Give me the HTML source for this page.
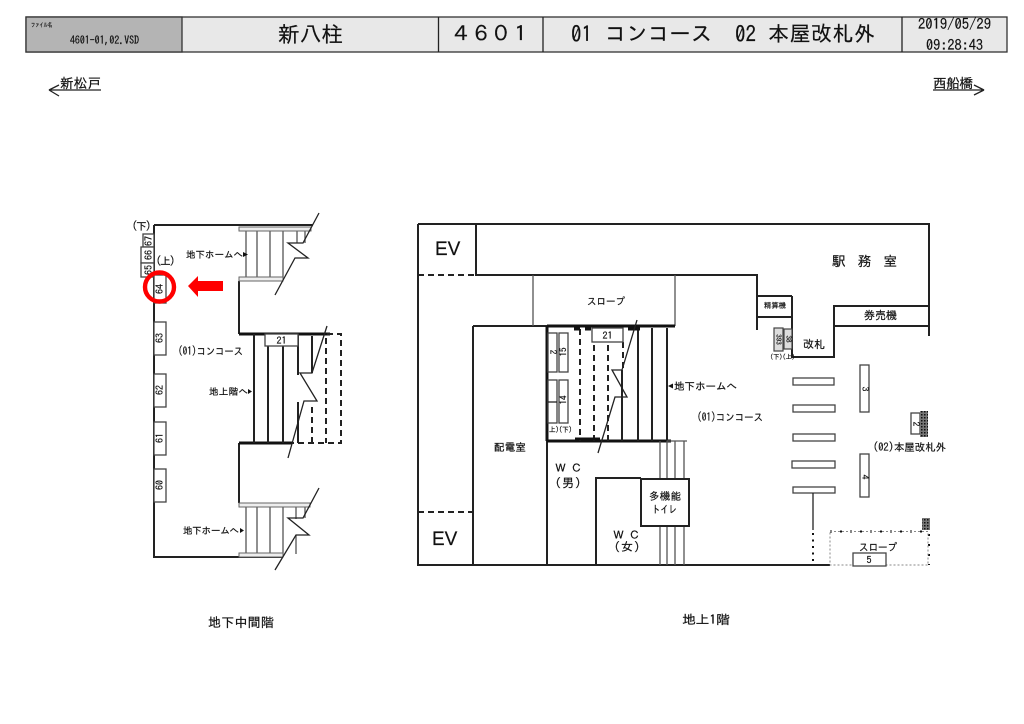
<!DOCTYPE html>
<html lang="ja">
<head>
<meta charset="utf-8">
<title>新八柱 4601</title>
<style>
html,body{margin:0;padding:0;background:#fff}
svg{display:block}
text{font-family:"IPAGothic","Liberation Sans","Noto Sans CJK JP",sans-serif;fill:#111;stroke:#111;stroke-width:.2}
.e{font-family:"Liberation Sans",sans-serif}
.l{fill:none;stroke:#222;stroke-width:1.3}
.w{fill:none;stroke:#222;stroke-width:2}
.t{fill:none;stroke:#111;stroke-width:3}
.d{fill:none;stroke:#222;stroke-width:2;stroke-dasharray:6 4}
.b{fill:#fff;stroke:#444;stroke-width:1.3}
.g{fill:none;stroke:#555;stroke-width:1.3}
.f{fill:#ddd;stroke:#444;stroke-width:1.2}
</style>
</head>
<body>
<svg width="1024" height="724" viewBox="0 0 1024 724" xmlns="http://www.w3.org/2000/svg">
<defs>
<pattern id="h" width="3" height="3" patternUnits="userSpaceOnUse"><rect width="3" height="3" fill="#777"/><rect width="1.5" height="1.5" fill="#111"/></pattern>
</defs>
<!-- header -->
<rect x="26" y="17" width="981" height="35" fill="#e8e8e8" stroke="#333" stroke-width="1.3"/>
<rect x="26" y="17" width="156" height="35" fill="#b4b4b4" stroke="#333" stroke-width="1.3"/>
<path class="l" d="M438.500 17V52M543 17V52M902 17V52"/>
<text x="31" y="27" font-size="6" textLength="21" lengthAdjust="spacingAndGlyphs">ファイル名</text>
<text x="70" y="44" font-size="10.500" textLength="69" lengthAdjust="spacingAndGlyphs">4601-01,02.VSD</text>
<text x="278" y="42" font-size="21.500" textLength="65">新八柱</text>
<text x="451" y="41" font-size="21" textLength="80">４６０１</text>
<text x="571" y="42" font-size="22" textLength="21" lengthAdjust="spacingAndGlyphs">01</text>
<text x="605" y="41" font-size="21" textLength="107">コンコース</text>
<text x="735" y="42" font-size="22" textLength="21" lengthAdjust="spacingAndGlyphs">02</text>
<text x="768" y="41" font-size="21" textLength="107">本屋改札外</text>
<text x="918" y="29" font-size="15" textLength="73" lengthAdjust="spacingAndGlyphs">2019/05/29</text>
<text x="926" y="50" font-size="15" textLength="57" lengthAdjust="spacingAndGlyphs">09:28:43</text>
<!-- direction -->
<text x="60" y="88" font-size="13.500" textLength="41">新松戸</text>
<path class="l" d="M101 90H49L59 85M49 90L59 96"/>
<text x="933" y="88" font-size="13.500" textLength="40">西船橋</text>
<path class="l" d="M933 90H984L974 85M984 90L974 95"/>

<!-- LEFT PLAN -->
<path class="w" d="M154 225H313M154 225V557H283M239 281V334M239 443V503"/>
<path class="t" d="M239 334H330M239 443H292"/>
<path class="d" d="M327 334H341V443H292M326 338V443M312 407V443"/>
<!-- stairs top -->
<path class="g" d="M246 230V278M257 230V278M270 230V278M283 230V278M297 230V243M305 230V243"/>
<rect x="239" y="227" width="72" height="4" fill="#eee" stroke="#666" stroke-width="1"/>
<rect x="239" y="277" width="44" height="4" fill="#eee" stroke="#666" stroke-width="1"/>
<path class="l" d="M319 213L303 243H288L308 258H295L275 295"/>
<!-- stairs mid -->
<path class="w" d="M254 334V443M268 334V443M283 334V443M298 334V375M298 402V443M312 336V373" stroke-width="1.600"/>
<path class="l" d="M327 326L312 373H300L317 401H304L288 458"/>
<rect x="265" y="334" width="33" height="12" class="b"/>
<text x="281.500" y="344" font-size="10" text-anchor="middle">21</text>
<!-- stairs bottom -->
<path class="g" d="M246 505V554M257 505V554M270 505V554M283 505V554M296 505V519M296 535V554M305 505V518"/>
<rect x="239" y="503" width="71" height="4" fill="#eee" stroke="#666" stroke-width="1"/>
<rect x="239" y="553" width="44" height="4" fill="#eee" stroke="#666" stroke-width="1"/>
<path class="l" d="M319 488L303 518H288L309 535H296L275 570"/>
<!-- posts -->
<rect x="143" y="234" width="11" height="13" class="b"/>
<rect x="141" y="247" width="13" height="16" class="b"/>
<rect x="141" y="263" width="13" height="14" class="b"/>
<rect x="154" y="275" width="12" height="28" class="b"/>
<rect x="154" y="322" width="12" height="33" class="b"/>
<rect x="154" y="374" width="12" height="33" class="b"/>
<rect x="154" y="422" width="12" height="33" class="b"/>
<rect x="154" y="469" width="12" height="33" class="b"/>
<g font-size="10" text-anchor="middle">
<text transform="translate(152,241) rotate(-90)">67</text>
<text transform="translate(152,255) rotate(-90)">66</text>
<text transform="translate(152,270) rotate(-90)">65</text>
<text transform="translate(163,289) rotate(-90)">64</text>
<text transform="translate(163,338) rotate(-90)">63</text>
<text transform="translate(163,390) rotate(-90)">62</text>
<text transform="translate(163,438) rotate(-90)">61</text>
<text transform="translate(163,485) rotate(-90)">60</text>
</g>
<text x="132" y="230" font-size="10.500" textLength="19">(下)</text>
<text x="156" y="265" font-size="10.500" textLength="19">(上)</text>
<circle cx="159.500" cy="287" r="14.500" fill="none" stroke="#f00" stroke-width="4.400"/>
<path d="M188 286L198 276V281H223V291H198V297Z" fill="#f00"/>
<text x="186" y="258" font-size="9.500" textLength="57">地下ホームへ</text>
<path d="M243 252L248 254.500L243 257Z" fill="#111"/>
<text x="178" y="355" font-size="10.500" textLength="65" lengthAdjust="spacingAndGlyphs">(01)コンコース</text>
<text x="209" y="395" font-size="9.500" textLength="39">地上階へ</text>
<path d="M248 389L252 391.500L248 394Z" fill="#111"/>
<text x="183" y="534" font-size="9.500" textLength="56">地下ホームへ</text>
<path d="M240 528L244 530.500L240 533Z" fill="#111"/>
<text x="208" y="627" font-size="13" textLength="66">地下中間階</text>
<text x="682" y="624" font-size="12.500" textLength="48" lengthAdjust="spacingAndGlyphs">地上1階</text>

<!-- RIGHT PLAN -->
<path class="w" d="M418 224H929V336M418 224V565H830M476 224V275H757V330M473 326H547M473 326V565M547 441V565M596 565V478H641M757 296H792M757 317H792M757 296V317M792 296V357H834V306H929M834 326H929"/>
<path d="M418 275H476M418 512H473" class="d"/>
<path class="g" d="M533 275V326M675 275V326"/>
<path class="t" d="M547 326H675M547 326V441M547 441H671"/>
<!-- right stairs -->
<path class="w" d="M638 328V441M652 328V441M667 328V441M622 370V441" stroke-width="1.600"/>
<path class="d" d="M580 329V441M594 345V441M608 345V441M623 342V370"/>
<path class="t" d="M574 329H580M585 329H591M628 329H640M575 439H600" stroke-width="2"/>
<rect x="592" y="328" width="31" height="14" class="b"/>
<text x="607.500" y="339" font-size="10" text-anchor="middle">21</text>
<path class="l" d="M637 320L622 370H612L627 397H615L598 453"/>
<rect x="548" y="333" width="9" height="39" class="b"/>
<rect x="559" y="333" width="9" height="39" class="b"/>
<rect x="548" y="380" width="9" height="43" class="b"/>
<rect x="559" y="380" width="9" height="43" class="b"/>
<path class="l" d="M548 402H557"/>
<g font-size="9" text-anchor="middle">
<text transform="translate(550,352) rotate(90)">2</text>
<text transform="translate(566.500,352) rotate(-90)">15</text>
<text transform="translate(566.500,400) rotate(-90)">14</text>
</g>
<text x="549" y="432" font-size="7" textLength="23" lengthAdjust="spacingAndGlyphs">上)(下)</text>
<path class="g" d="M660 441V565M667 441V565M675 441V565M684 441V565M667 441H687"/>
<rect x="641" y="479" width="48" height="47" fill="#fff" stroke="#222" stroke-width="2"/>
<!-- right-hand elements -->
<rect x="774" y="328" width="9" height="23" class="f"/>
<rect x="784" y="329" width="8" height="20" class="f"/>
<text transform="translate(776,339.500) rotate(90)" font-size="7" text-anchor="middle">393</text>
<text transform="translate(786,339) rotate(90)" font-size="7" text-anchor="middle">38</text>
<text x="770" y="359" font-size="6.500" textLength="25" lengthAdjust="spacingAndGlyphs">(下)(上)</text>
<rect x="793" y="378" width="41" height="7" class="b"/>
<rect x="793" y="405" width="42" height="7" class="b"/>
<rect x="793" y="434" width="42" height="7" class="b"/>
<rect x="792" y="461" width="43" height="7" class="b"/>
<rect x="793" y="487" width="42" height="6" class="b"/>
<rect x="860" y="365" width="9" height="47" class="b"/>
<rect x="860" y="454" width="9" height="43" class="b"/>
<rect x="911" y="413" width="9" height="21" class="b"/>
<text transform="translate(862,389) rotate(90)" font-size="9.500" text-anchor="middle">3</text>
<text transform="translate(862,477) rotate(90)" font-size="9.500" text-anchor="middle">4</text>
<text transform="translate(913,424) rotate(90)" font-size="9.500" text-anchor="middle">2</text>
<rect x="920" y="411" width="8" height="26" fill="url(#h)"/>
<rect x="922" y="518" width="8" height="12" fill="url(#h)"/>
<path class="l" d="M813 493V530" stroke-width="1.600"/>
<path d="M813 533V565" fill="none" stroke="#111" stroke-width="2" stroke-dasharray="2 4.500"/>
<path d="M830 531.500H928M929 534V565" fill="none" stroke="#111" stroke-width="2" stroke-dasharray="2 8"/>
<path d="M830 531.500H928V565H830Z" fill="none" stroke="#888" stroke-width="1" stroke-dasharray="2 2"/>
<rect x="853" y="553" width="33" height="13" class="b"/>
<text x="869" y="563.500" font-size="10" text-anchor="middle">5</text>
<!-- labels -->
<text class="e" x="435" y="255" font-size="19">EV</text>
<text class="e" x="432" y="545" font-size="19">EV</text>
<text x="587" y="305" font-size="10" textLength="38" lengthAdjust="spacingAndGlyphs">スロープ</text>
<text x="494" y="451" font-size="10.500" textLength="32">配電室</text>
<text x="555" y="472" font-size="11" textLength="27" lengthAdjust="spacing">ＷＣ</text>
<text x="555" y="487" font-size="12" textLength="26">(男)</text>
<text x="613" y="539" font-size="11" textLength="27" lengthAdjust="spacing">ＷＣ</text>
<text x="614" y="551" font-size="12" textLength="26">(女)</text>
<text x="649" y="500" font-size="10.500" textLength="32">多機能</text>
<text x="652" y="513" font-size="10.500" textLength="25" lengthAdjust="spacingAndGlyphs">トイレ</text>
<path d="M673 383.500L668 386L673 388.500Z" fill="#111"/>
<text x="674" y="390" font-size="10.500" textLength="63">地下ホームへ</text>
<text x="697" y="421" font-size="10.500" textLength="66" lengthAdjust="spacingAndGlyphs">(01)コンコース</text>
<text x="873" y="451" font-size="10.500" textLength="73" lengthAdjust="spacingAndGlyphs">(02)本屋改札外</text>
<text x="832" y="266" font-size="13.500" textLength="65" lengthAdjust="spacing">駅務室</text>
<text x="864" y="319" font-size="11" textLength="33">券売機</text>
<text x="803" y="348" font-size="11" textLength="22">改札</text>
<text x="764" y="308" font-size="7.500" textLength="22" lengthAdjust="spacingAndGlyphs">精算機</text>
<text x="859" y="551" font-size="10.500" textLength="38" lengthAdjust="spacingAndGlyphs">スロープ</text>
</svg>
</body>
</html>
